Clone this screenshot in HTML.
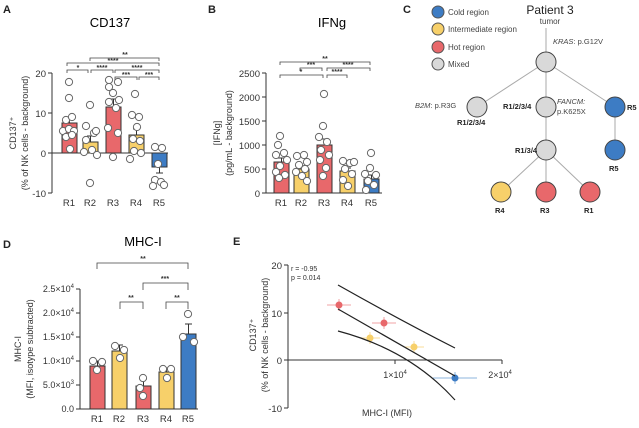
<!DOCTYPE html>
<html><head><meta charset="utf-8"><style>
body{margin:0;background:#fff;}
svg{display:block;font-family:"Liberation Sans",Arial,sans-serif;}
</style></head><body>
<svg width="639" height="428" viewBox="0 0 639 428">
<defs>
<g id="dot"><circle r="3.6" fill="#fff" stroke="#666" stroke-width="1"/></g>
</defs>
<g font-weight="bold" font-size="11" fill="#222">
<text x="3" y="13">A</text><text x="208" y="13">B</text><text x="403" y="13">C</text>
<text x="3" y="248">D</text><text x="233" y="245">E</text>
</g>

<!-- Panel A -->
<text x="110" y="27" font-size="13" text-anchor="middle">CD137</text>
<g stroke="#333" stroke-width="1" fill="none">
<line x1="52" y1="73" x2="52" y2="193"/>
<line x1="48" y1="73" x2="52" y2="73"/><line x1="48" y1="113" x2="52" y2="113"/>
<line x1="48" y1="153" x2="52" y2="153"/><line x1="48" y1="193" x2="52" y2="193"/>
</g>
<g font-size="9.5" text-anchor="end" fill="#333">
<text x="46" y="77">20</text><text x="46" y="117">10</text><text x="46" y="157">0</text><text x="46" y="197">-10</text>
</g>
<g stroke="#333" stroke-width="1">
<rect x="62" y="123" width="15" height="30" fill="#e8686b"/>
<rect x="83" y="142" width="15" height="11" fill="#f7d06a"/>
<rect x="106" y="107" width="15" height="46" fill="#e8686b"/>
<rect x="129" y="135" width="15" height="18" fill="#f7d06a"/>
<rect x="152" y="153" width="15" height="14" fill="#3d7cc4"/>
<line x1="52" y1="153" x2="168" y2="153"/>
<path d="M69.5 123V118M66 118h7M90.5 142V136M87 136h7M113.5 107V99M110 99h7M136.5 135V129M133 129h7M159.5 167V173M156 173h7" fill="none"/>
</g>
<g>
<use href="#dot" x="69" y="82"/><use href="#dot" x="69" y="98"/><use href="#dot" x="66" y="120"/><use href="#dot" x="72" y="117"/><use href="#dot" x="63" y="131"/><use href="#dot" x="69" y="129"/><use href="#dot" x="74" y="131"/><use href="#dot" x="66" y="137"/><use href="#dot" x="72" y="135"/><use href="#dot" x="70" y="149"/>
<use href="#dot" x="90" y="105"/><use href="#dot" x="94" y="133"/><use href="#dot" x="86" y="126"/><use href="#dot" x="96" y="131"/><use href="#dot" x="84" y="152"/><use href="#dot" x="92" y="150"/><use href="#dot" x="97" y="155"/><use href="#dot" x="90" y="183"/><use href="#dot" x="86" y="140"/>
<use href="#dot" x="109" y="80"/><use href="#dot" x="118" y="82"/><use href="#dot" x="109" y="87"/><use href="#dot" x="113" y="93"/><use href="#dot" x="119" y="100"/><use href="#dot" x="109" y="102"/><use href="#dot" x="116" y="108"/><use href="#dot" x="108" y="128"/><use href="#dot" x="118" y="133"/><use href="#dot" x="113" y="157"/>
<use href="#dot" x="135" y="94"/><use href="#dot" x="132" y="115"/><use href="#dot" x="139" y="117"/><use href="#dot" x="137" y="127"/><use href="#dot" x="133" y="139"/><use href="#dot" x="140" y="141"/><use href="#dot" x="134" y="151"/><use href="#dot" x="141" y="153"/><use href="#dot" x="130" y="159"/>
<use href="#dot" x="155" y="147"/><use href="#dot" x="162" y="148"/><use href="#dot" x="158" y="164"/><use href="#dot" x="155" y="180"/><use href="#dot" x="161" y="182"/><use href="#dot" x="164" y="185"/><use href="#dot" x="153" y="186"/>
</g>
<g font-size="9.5" text-anchor="middle" fill="#333">
<text x="69" y="206">R1</text><text x="90" y="206">R2</text><text x="113" y="206">R3</text><text x="136" y="206">R4</text><text x="159" y="206">R5</text>
</g>
<g font-size="9" text-anchor="middle" fill="#333">
<text transform="translate(16,133) rotate(-90)">CD137⁺</text>
<text transform="translate(28,133) rotate(-90)">(% of NK cells - background)</text>
</g>
<g stroke="#444" stroke-width="0.8" fill="none">
<path d="M90 61V58H159V61"/><path d="M67 66V63H159V66"/>
<path d="M67 73V70H88V73"/><path d="M91 73V70H113V73"/><path d="M115 73V70H159V73"/>
<path d="M115 80V77H137V80"/><path d="M139 80V77H159V80"/>
</g>
<g font-size="7" text-anchor="middle" fill="#333" font-weight="bold">
<text x="125" y="57">**</text><text x="113" y="63">****</text>
<text x="78" y="70">*</text><text x="102" y="70">****</text><text x="137" y="70">****</text>
<text x="126" y="77">***</text><text x="149" y="77">***</text>
</g>

<!-- Panel B -->
<text x="332" y="27" font-size="13" text-anchor="middle">IFNg</text>
<g stroke="#333" stroke-width="1" fill="none">
<line x1="266" y1="73" x2="266" y2="193"/><line x1="266" y1="193" x2="382" y2="193"/>
<line x1="262" y1="73" x2="266" y2="73"/><line x1="262" y1="97" x2="266" y2="97"/><line x1="262" y1="121" x2="266" y2="121"/><line x1="262" y1="145" x2="266" y2="145"/><line x1="262" y1="169" x2="266" y2="169"/><line x1="262" y1="193" x2="266" y2="193"/>
</g>
<g font-size="9.5" text-anchor="end" fill="#333">
<text x="260" y="77">2500</text><text x="260" y="101">2000</text><text x="260" y="125">1500</text><text x="260" y="149">1000</text><text x="260" y="173">500</text><text x="260" y="197">0</text>
</g>
<g stroke="#333" stroke-width="1">
<rect x="274" y="162" width="15" height="31" fill="#e8686b"/>
<rect x="294" y="169" width="15" height="24" fill="#f7d06a"/>
<rect x="317" y="145" width="15" height="48" fill="#e8686b"/>
<rect x="340" y="171" width="15" height="22" fill="#f7d06a"/>
<rect x="364" y="179" width="15" height="14" fill="#3d7cc4"/>
<path d="M281.5 162V158M278 158h7M301.5 169V166M298 166h7M324.5 145V139M321 139h7M347.5 171V168M344 168h7M371.5 179V175M368 175h7" fill="none"/>
</g>
<g>
<use href="#dot" x="280" y="136"/><use href="#dot" x="278" y="145"/><use href="#dot" x="284" y="153"/><use href="#dot" x="276" y="155"/><use href="#dot" x="287" y="160"/><use href="#dot" x="280" y="166"/><use href="#dot" x="276" y="172"/><use href="#dot" x="285" y="175"/><use href="#dot" x="279" y="178"/>
<use href="#dot" x="297" y="156"/><use href="#dot" x="304" y="155"/><use href="#dot" x="307" y="162"/><use href="#dot" x="299" y="165"/><use href="#dot" x="305" y="169"/><use href="#dot" x="296" y="172"/><use href="#dot" x="302" y="176"/><use href="#dot" x="307" y="181"/>
<use href="#dot" x="324" y="94"/><use href="#dot" x="323" y="126"/><use href="#dot" x="319" y="137"/><use href="#dot" x="327" y="142"/><use href="#dot" x="321" y="150"/><use href="#dot" x="329" y="155"/><use href="#dot" x="320" y="160"/><use href="#dot" x="326" y="168"/><use href="#dot" x="323" y="176"/>
<use href="#dot" x="343" y="161"/><use href="#dot" x="350" y="163"/><use href="#dot" x="354" y="162"/><use href="#dot" x="345" y="169"/><use href="#dot" x="352" y="174"/><use href="#dot" x="343" y="180"/><use href="#dot" x="348" y="186"/>
<use href="#dot" x="371" y="153"/><use href="#dot" x="370" y="168"/><use href="#dot" x="365" y="174"/><use href="#dot" x="376" y="175"/><use href="#dot" x="368" y="181"/><use href="#dot" x="374" y="185"/><use href="#dot" x="366" y="190"/>
</g>
<g font-size="9.5" text-anchor="middle" fill="#333">
<text x="281" y="206">R1</text><text x="301" y="206">R2</text><text x="324" y="206">R3</text><text x="347" y="206">R4</text><text x="371" y="206">R5</text>
</g>
<g font-size="9" text-anchor="middle" fill="#333">
<text transform="translate(220,133) rotate(-90)">[IFNg]</text>
<text transform="translate(232,133) rotate(-90)">(pg/mL - background)</text>
</g>
<g stroke="#444" stroke-width="0.8" fill="none">
<path d="M280 65V62H370V65"/><path d="M300 71V68H322V71"/><path d="M327 71V68H370V71"/>
<path d="M280 78V75H323V78"/><path d="M327 78V75H347V78"/>
</g>
<g font-size="7" text-anchor="middle" fill="#333" font-weight="bold">
<text x="325" y="61">**</text><text x="311" y="67">***</text><text x="348" y="67">****</text>
<text x="301" y="74">*</text><text x="337" y="74">****</text>
</g>

<!-- Panel C -->
<g stroke="#555" stroke-width="1">
<circle cx="438" cy="12" r="6" fill="#3d7cc4"/><circle cx="438" cy="29" r="6" fill="#f7d06a"/>
<circle cx="438" cy="47" r="6" fill="#e8686b"/><circle cx="438" cy="64" r="6" fill="#d9d9d9"/>
</g>
<g font-size="8" fill="#444">
<text x="448" y="15">Cold region</text><text x="448" y="32">Intermediate region</text>
<text x="448" y="50">Hot region</text><text x="448" y="67">Mixed</text>
</g>
<text x="550" y="14" font-size="12" text-anchor="middle" fill="#222">Patient 3</text>
<text x="550" y="24" font-size="8" text-anchor="middle" fill="#444">tumor</text>
<g stroke="#aaa" stroke-width="1">
<line x1="546" y1="28" x2="546" y2="62"/>
<line x1="546" y1="62" x2="477" y2="107"/><line x1="546" y1="62" x2="546" y2="107"/><line x1="546" y1="62" x2="615" y2="107"/>
<line x1="546" y1="107" x2="546" y2="150"/><line x1="615" y1="107" x2="615" y2="150"/>
<line x1="546" y1="150" x2="501" y2="192"/><line x1="546" y1="150" x2="546" y2="192"/><line x1="546" y1="150" x2="590" y2="192"/>
</g>
<g stroke="#444" stroke-width="1">
<circle cx="546" cy="62" r="10" fill="#d9d9d9"/>
<circle cx="477" cy="107" r="10" fill="#d9d9d9"/><circle cx="546" cy="107" r="10" fill="#d9d9d9"/><circle cx="615" cy="107" r="10" fill="#3d7cc4"/>
<circle cx="546" cy="150" r="10" fill="#d9d9d9"/><circle cx="615" cy="150" r="10" fill="#3d7cc4"/>
<circle cx="501" cy="192" r="10" fill="#f7d06a"/><circle cx="546" cy="192" r="10" fill="#e8686b"/><circle cx="590" cy="192" r="10" fill="#e8686b"/>
</g>
<g font-size="7.5" fill="#444">
<text x="553" y="44"><tspan font-style="italic">KRAS</tspan>: p.G12V</text>
<text x="415" y="108"><tspan font-style="italic">B2M</tspan>: p.R3G</text>
<text x="557" y="104" font-style="italic">FANCM:</text><text x="557" y="114">p.K625X</text>
</g>
<g font-size="7.5" fill="#222" font-weight="bold">
<text x="457" y="125">R1/2/3/4</text><text x="503" y="109">R1/2/3/4</text>
<text x="627" y="110">R5</text><text x="609" y="171">R5</text>
<text x="515" y="153">R1/3/4</text>
<text x="495" y="213">R4</text><text x="540" y="213">R3</text><text x="584" y="213">R1</text>
</g>

<!-- Panel D -->
<text x="143" y="246" font-size="13" text-anchor="middle">MHC-I</text>
<g stroke="#333" stroke-width="1" fill="none">
<line x1="80" y1="289" x2="80" y2="409"/><line x1="80" y1="409" x2="198" y2="409"/>
<line x1="76" y1="289" x2="80" y2="289"/><line x1="76" y1="313" x2="80" y2="313"/><line x1="76" y1="337" x2="80" y2="337"/><line x1="76" y1="361" x2="80" y2="361"/><line x1="76" y1="385" x2="80" y2="385"/><line x1="76" y1="409" x2="80" y2="409"/>
</g>
<g font-size="9" text-anchor="end" fill="#333">
<text x="74" y="292">2.5×10<tspan font-size="6" dy="-4">4</tspan></text>
<text x="74" y="316">2.0×10<tspan font-size="6" dy="-4">4</tspan></text>
<text x="74" y="340">1.5×10<tspan font-size="6" dy="-4">4</tspan></text>
<text x="74" y="364">1.0×10<tspan font-size="6" dy="-4">4</tspan></text>
<text x="74" y="388">5.0×10<tspan font-size="6" dy="-4">3</tspan></text>
<text x="74" y="412">0.0</text>
</g>
<g stroke="#333" stroke-width="1">
<rect x="90" y="366" width="15" height="43" fill="#e8686b"/>
<rect x="112" y="351" width="15" height="58" fill="#f7d06a"/>
<rect x="136" y="386" width="15" height="23" fill="#e8686b"/>
<rect x="159" y="372" width="15" height="37" fill="#f7d06a"/>
<rect x="181" y="334" width="15" height="75" fill="#3d7cc4"/>
<path d="M97.5 366V361M94 361h7M119.5 351V345M116 345h7M143.5 386V379M140 379h7M166.5 372V368M163 368h7M188.5 334V324M185 324h7" fill="none"/>
</g>
<g>
<use href="#dot" x="93" y="361"/><use href="#dot" x="102" y="362"/><use href="#dot" x="97" y="370"/>
<use href="#dot" x="115" y="346"/><use href="#dot" x="124" y="350"/><use href="#dot" x="120" y="358"/>
<use href="#dot" x="143" y="378"/><use href="#dot" x="140" y="388"/><use href="#dot" x="143" y="396"/>
<use href="#dot" x="163" y="369"/><use href="#dot" x="171" y="369"/><use href="#dot" x="167" y="378"/>
<use href="#dot" x="188" y="314"/><use href="#dot" x="183" y="337"/><use href="#dot" x="194" y="342"/>
</g>
<g font-size="9.5" text-anchor="middle" fill="#333">
<text x="97" y="422">R1</text><text x="119" y="422">R2</text><text x="143" y="422">R3</text><text x="166" y="422">R4</text><text x="188" y="422">R5</text>
</g>
<g font-size="9" text-anchor="middle" fill="#333">
<text transform="translate(21,349) rotate(-90)">MHC-I</text>
<text transform="translate(33,349) rotate(-90)">(MFI, isotype subtracted)</text>
</g>
<g stroke="#444" stroke-width="0.8" fill="none">
<path d="M97 269V263H188V269"/><path d="M143 290V283H188V290"/>
<path d="M120 309V302H143V309"/><path d="M166 309V302H188V309"/>
</g>
<g font-size="7" text-anchor="middle" fill="#333" font-weight="bold">
<text x="143" y="261">**</text><text x="165" y="281">***</text><text x="131" y="300">**</text><text x="177" y="300">**</text>
</g>

<!-- Panel E -->
<g stroke="#333" stroke-width="1" fill="none">
<line x1="288" y1="265" x2="288" y2="408"/><line x1="284" y1="265" x2="288" y2="265"/><line x1="284" y1="313" x2="288" y2="313"/><line x1="284" y1="360" x2="288" y2="360"/><line x1="284" y1="408" x2="288" y2="408"/>
<line x1="288" y1="360" x2="502" y2="360"/><line x1="395" y1="360" x2="395" y2="364"/><line x1="502" y1="360" x2="502" y2="364"/>
</g>
<g font-size="9.5" text-anchor="end" fill="#333">
<text x="282" y="269">20</text><text x="282" y="317">10</text><text x="282" y="364">0</text><text x="282" y="412">-10</text>
</g>
<g font-size="9" text-anchor="middle" fill="#333">
<text x="395" y="378">1×10<tspan font-size="6" dy="-4">4</tspan></text>
<text x="500" y="378">2×10<tspan font-size="6" dy="-4">4</tspan></text>
<text x="387" y="416">MHC-I (MFI)</text>
<text transform="translate(256,335) rotate(-90)">CD137⁺</text>
<text transform="translate(268,335) rotate(-90)">(% of NK cells - background)</text>
</g>
<g font-size="7" fill="#333"><text x="291" y="271">r = -0.95</text><text x="291" y="280">p = 0.014</text></g>
<g stroke-width="1" fill="none">
<path stroke="#f1a3a4" d="M327 305h24M339 299v12M372 323h24M384 317v12"/>
<path stroke="#f8dc99" d="M360 338h20M370 332v12M404 347h20M414 341v12"/>
<path stroke="#8db4dd" d="M433 378h44M455 372v12"/>
</g>
<circle cx="339" cy="305" r="3.5" fill="#e8686b"/><circle cx="384" cy="323" r="3.5" fill="#e8686b"/>
<circle cx="370" cy="338" r="3.5" fill="#f7d06a"/><circle cx="414" cy="347" r="3.5" fill="#f7d06a"/>
<circle cx="455" cy="378" r="3.5" fill="#3d7cc4"/>
<g stroke="#222" stroke-width="1.2" fill="none">
<path d="M338 285Q400 320 455 348"/>
<path d="M338 309L455 376"/>
<path d="M338 331Q410 350 455 400"/>
</g>
</svg>
</body></html>
